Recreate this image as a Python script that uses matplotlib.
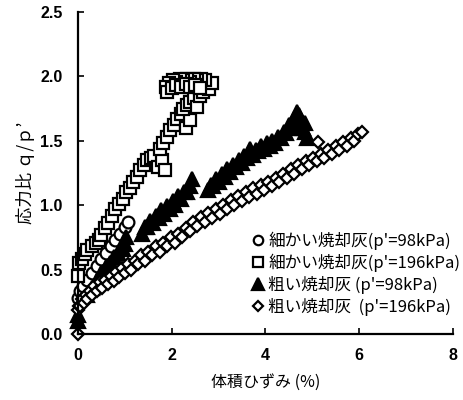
import matplotlib
matplotlib.use("Agg")
import matplotlib.pyplot as plt

plt.rcParams['font.family'] = ['Noto Sans CJK JP', 'DejaVu Sans']

# 細かい焼却灰 p'=98kPa (circles)
fine98_x = [0.0, 0.05, 0.1, 0.2, 0.3, 0.4, 0.5, 0.6, 0.7, 0.8, 0.9, 1.0, 1.06]
fine98_y = [0.28, 0.33, 0.37, 0.42, 0.47, 0.53, 0.58, 0.63, 0.68, 0.73, 0.78, 0.83, 0.87]

# 細かい焼却灰 p'=196kPa (squares)
fine196_x = [0.0, 0.02, 0.08, 0.15, 0.2, 0.3, 0.38, 0.45, 0.5, 0.58, 0.65, 0.72, 0.8,
             0.87, 0.95, 1.02, 1.1, 1.17, 1.25, 1.32, 1.4, 1.47, 1.55, 1.62, 1.7, 1.8,
             1.85, 1.75, 1.82, 1.9, 1.97, 2.05, 2.12, 2.2, 2.3, 2.4, 2.25, 2.32, 2.4,
             2.47, 2.53, 2.6, 2.67, 2.72, 2.8, 2.85, 2.7, 2.62, 2.55, 2.48, 2.4, 2.33,
             2.25, 2.18, 2.1, 2.02, 1.95, 1.88, 1.9, 2.0, 2.1, 2.2, 2.3, 2.4, 2.5, 2.6]
fine196_y = [0.45, 0.55, 0.58, 0.62, 0.65, 0.68, 0.71, 0.73, 0.77, 0.82, 0.86, 0.92, 0.97,
             1.01, 1.05, 1.1, 1.13, 1.18, 1.22, 1.27, 1.31, 1.35, 1.37, 1.38, 1.3, 1.35,
             1.27, 1.44, 1.48, 1.53, 1.58, 1.62, 1.67, 1.71, 1.6, 1.66, 1.75, 1.78, 1.8,
             1.83, 1.76, 1.85, 1.88, 1.93, 1.9, 1.95, 1.97, 1.98, 1.97, 1.98, 1.96, 1.98,
             1.97, 1.98, 1.96, 1.97, 1.95, 1.92, 1.88, 1.91, 1.93, 1.92, 1.94, 1.92, 1.93, 1.91]

# 粗い焼却灰 p'=98kPa (triangles)
coarse98_x = [0.0, 0.0, 0.2, 0.3, 0.4, 0.5, 0.6, 0.68, 0.76, 0.85, 0.95, 1.0, 1.02,
              1.36, 1.42, 1.48, 1.54, 1.6, 1.66, 1.72, 1.78, 1.84, 1.9, 1.96, 2.02,
              2.08, 2.14, 2.2, 2.26, 2.32, 2.38, 2.43,
              2.77, 2.83, 2.89, 2.95, 3.01, 3.07, 3.13, 3.19, 3.25, 3.31, 3.37, 3.43,
              3.49, 3.55, 3.61, 3.67, 3.73, 3.79, 3.85, 3.91, 3.97, 4.03, 4.09, 4.15,
              4.21, 4.27, 4.33, 4.39, 4.45, 4.5, 4.55, 4.6, 4.64, 4.68, 4.72, 4.76,
              4.8, 4.84, 4.88, 4.7, 4.85]
coarse98_y = [0.1, 0.15, 0.3, 0.36, 0.42, 0.47, 0.52, 0.55, 0.6, 0.63, 0.66, 0.7, 0.75,
              0.78, 0.83, 0.83, 0.88, 0.86, 0.92, 0.9, 0.96, 0.93, 0.99, 0.97, 1.03,
              1.0, 1.07, 1.05, 1.1, 1.1, 1.15, 1.2,
              1.12, 1.16, 1.15, 1.2, 1.18, 1.24, 1.22, 1.28, 1.26, 1.31, 1.3, 1.35,
              1.33, 1.38, 1.37, 1.44, 1.39, 1.43, 1.42, 1.46, 1.44, 1.48, 1.46, 1.5,
              1.48, 1.53, 1.52, 1.57, 1.56, 1.62, 1.6, 1.67, 1.65, 1.72, 1.7, 1.66,
              1.6, 1.57, 1.52, 1.6, 1.64]

# 粗い焼却灰 p'=196kPa (diamonds)
coarse196_x = [0.0, 0.0, 0.02, 0.05, 0.08, 0.12, 0.16, 0.2, 0.25, 0.3, 0.35, 0.4, 0.46,
               0.52, 0.58, 0.64, 0.7, 0.76, 0.82, 0.88, 0.94, 1.0, 1.07, 1.14, 1.21,
               1.28, 1.35, 1.42, 1.5, 1.58, 1.66, 1.74, 1.82, 1.9, 1.98, 2.06, 2.14,
               2.22, 2.3, 2.38, 2.46, 2.54, 2.62, 2.7, 2.78, 2.86, 2.94, 3.02, 3.1,
               3.18, 3.26, 3.34, 3.42, 3.5, 3.58, 3.66, 3.74, 3.82, 3.9, 3.98, 4.06,
               4.14, 4.22, 4.3, 4.38, 4.46, 4.54, 4.62, 4.7, 4.78, 4.86, 4.94, 5.02,
               5.1, 5.18, 5.26, 5.34, 5.42, 5.5, 5.58, 5.66, 5.74, 5.82, 5.9, 5.98,
               6.06, 5.12]
coarse196_y = [0.0, 0.19, 0.22, 0.22, 0.27, 0.24, 0.30, 0.27, 0.33, 0.30, 0.37, 0.33, 0.40,
               0.36, 0.42, 0.39, 0.45, 0.41, 0.48, 0.44, 0.51, 0.47, 0.54, 0.50, 0.57,
               0.54, 0.61, 0.57, 0.64, 0.61, 0.68, 0.64, 0.71, 0.68, 0.75, 0.71, 0.78,
               0.75, 0.82, 0.80, 0.87, 0.84, 0.91, 0.87, 0.94, 0.90, 0.97, 0.93, 1.00,
               0.97, 1.04, 1.00, 1.07, 1.03, 1.10, 1.06, 1.13, 1.09, 1.16, 1.12, 1.18,
               1.15, 1.21, 1.18, 1.24, 1.21, 1.28, 1.24, 1.31, 1.28, 1.34, 1.31, 1.37,
               1.34, 1.40, 1.37, 1.43, 1.40, 1.46, 1.43, 1.49, 1.46, 1.52, 1.50, 1.55,
               1.57, 1.49]

labels = ["細かい焼却灰(p'=98kPa)", "細かい焼却灰(p'=196kPa)",
          "粗い焼却灰 (p'=98kPa)", "粗い焼却灰  (p'=196kPa)"]

fig = plt.figure(figsize=(4.63, 4.0), dpi=100)
ax = fig.add_axes([0.1685, 0.165, 0.8095, 0.805])

kw = dict(linestyle="none", markeredgecolor="black", markeredgewidth=1.6, clip_on=False)
ax.plot(fine98_x, fine98_y, marker="o", markersize=8.5, markerfacecolor="white",
        label=labels[0], **kw)
ax.plot(fine196_x, fine196_y, marker="s", markersize=9, markerfacecolor="white",
        label=labels[1], **kw)
ax.plot(coarse98_x, coarse98_y, marker="^", markersize=10.5, markerfacecolor="black",
        label=labels[2], **kw)
ax.plot(coarse196_x, coarse196_y, marker="D", markersize=6.5, markerfacecolor="white",
        label=labels[3], **kw)

ax.set_xlim(0, 8)
ax.set_ylim(0, 2.5)
ax.set_xticks([0, 2, 4, 6, 8])
ax.set_yticks([0.0, 0.5, 1.0, 1.5, 2.0, 2.5])
ax.set_yticklabels(["0.0", "0.5", "1.0", "1.5", "2.0", "2.5"])
for s in ["top", "right"]:
    ax.spines[s].set_visible(False)
for s in ["left", "bottom"]:
    ax.spines[s].set_linewidth(1.6)
ax.tick_params(direction="in", length=4, width=1.2, labelsize=11.5)
ax.tick_params(axis="y", pad=11)
ax.tick_params(axis="x", pad=10)
for lab in ax.get_xticklabels() + ax.get_yticklabels():
    lab.set_family("Liberation Sans")
    lab.set_fontweight("bold")

ax.set_xlabel("体積ひずみ (%)", fontsize=11.5, labelpad=8)
ax.set_ylabel("応力比 ｑ/ｐ’", fontsize=12.5, labelpad=4)

leg = ax.legend(loc="lower left", bbox_to_anchor=(0.467, 0.056), frameon=False,
                fontsize=12, handlelength=0.6, handletextpad=0.3, labelspacing=0.24,
                borderaxespad=0, borderpad=0, markerscale=0.8)

fig.savefig("out.png", dpi=100)
